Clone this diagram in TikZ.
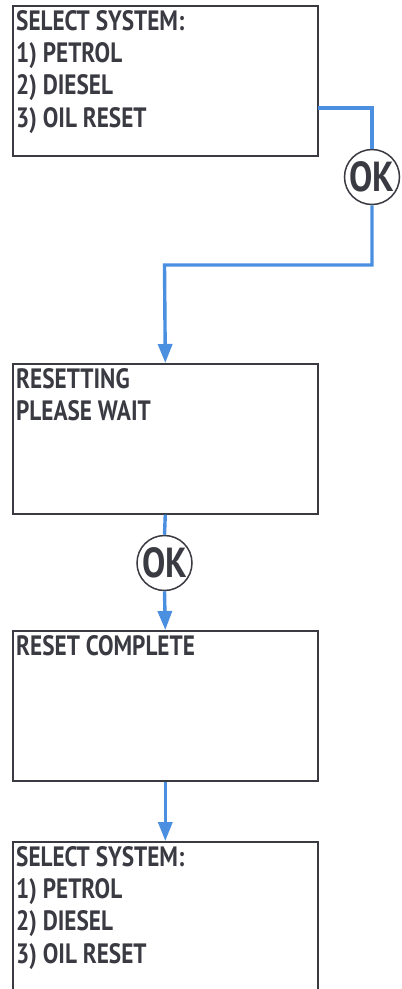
\documentclass[tikz,border=0pt]{standalone}
\usepackage{fontspec}
\setmainfont{PT Sans}[FakeStretch=0.83]
\usetikzlibrary{arrows.meta,calc}
\definecolor{txt}{HTML}{3A3A42}
\definecolor{flow}{HTML}{4A8FE0}
\begin{document}
\begin{tikzpicture}[x=1pt,y=-1pt,
  screen/.style={draw=txt,line width=1.6pt,rectangle,minimum width=305pt,minimum height=150pt,inner sep=0pt,anchor=north west},
  scrtext/.style={anchor=north west,inner sep=0pt,align=left,text=txt,font=\bfseries\fontsize{28}{32.3}\selectfont},
  okbtn/.style={draw=txt,line width=1.5pt,circle,minimum size=55pt,inner sep=0pt,text=txt,font=\bfseries\fontsize{42}{42}\selectfont},
  conn/.style={draw=flow,line width=3.4pt},
  arr/.style={conn,-{Triangle[length=19pt,width=14pt]}}]
\useasboundingbox (0,0) rectangle (402,989);
\node[screen] (b1) at (12,5) {};
\node[screen] (b2) at (12,363) {};
\node[screen] (b3) at (12,630) {};
\node[screen,minimum height=160pt] (b4) at (12,841) {};
\node[scrtext] (t1) at (16,10) {SELECT SYSTEM:\\1) PETROL\\2) DIESEL\\3) OIL RESET};
\node[scrtext] (t2) at (16,368) {RESETTING\\PLEASE WAIT};
\node[scrtext] (t3) at (16,635) {RESET COMPLETE};
\node[scrtext] (t4) at (16,846) {SELECT SYSTEM:\\1) PETROL\\2) DIESEL\\3) OIL RESET};
\node[okbtn] (ok1) at (372,177) {OK};
\node[okbtn] (ok2) at (164.5,563) {OK};
\coordinate (c1) at (318,108);
\coordinate (c2) at (372,108);
\coordinate (c3) at (372,265);
\coordinate (c4) at (164.5,265);
\draw[conn] (c1) -- (c2) -- (ok1.north);
\draw[arr] (ok1.south) -- (c3) -- (c4) -- (b2.north);
\draw[conn] (b2.south) -- (ok2.north);
\draw[arr] (ok2.south) -- (b3.north);
\draw[arr] (b3.south) -- (b4.north);
\end{tikzpicture}
\end{document}
